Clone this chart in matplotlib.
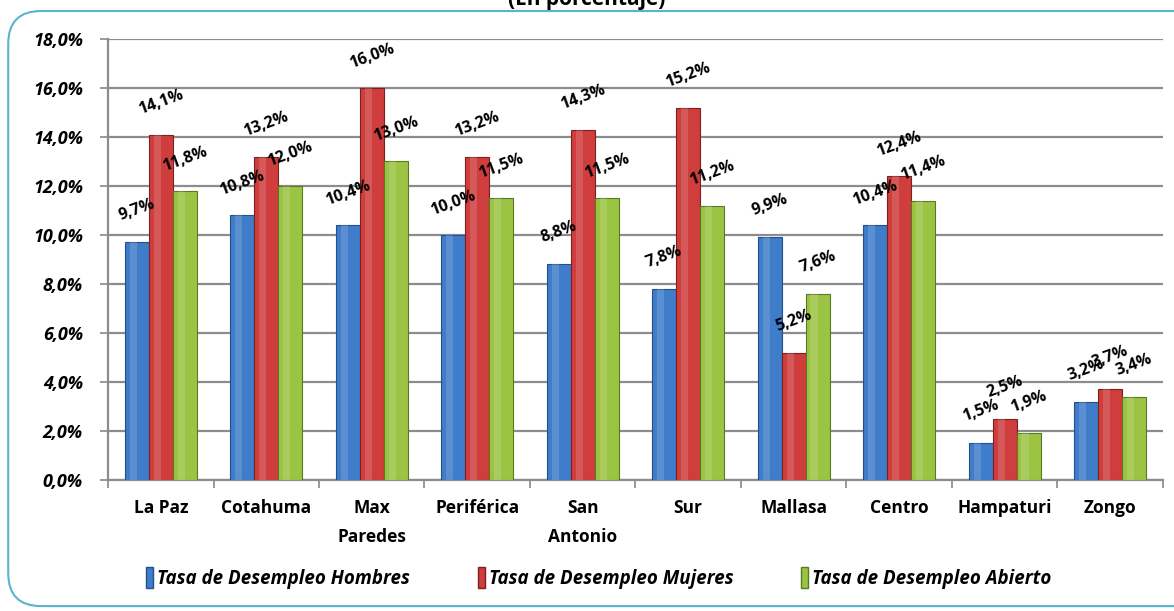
import matplotlib.pyplot as plt
import numpy as np
from matplotlib.patches import FancyBboxPatch, Rectangle

plt.rcParams["font.family"] = ["Open Sans", "DejaVu Sans"]

categorias = ["La Paz", "Cotahuma", "Max\nParedes", "Periférica", "San\nAntonio",
              "Sur", "Mallasa", "Centro", "Hampaturi", "Zongo"]
hombres = [9.7, 10.8, 10.4, 10.0, 8.8, 7.8, 9.9, 10.4, 1.5, 3.2]
mujeres = [14.1, 13.2, 16.0, 13.2, 14.3, 15.2, 5.2, 12.4, 2.5, 3.7]
abierto = [11.8, 12.0, 13.0, 11.5, 11.5, 11.2, 7.6, 11.4, 1.9, 3.4]
series = [
    ("Tasa de Desempleo Hombres", hombres, "#3f7cc9", "#244f8a"),
    ("Tasa de Desempleo Mujeres", mujeres, "#cf3d3d", "#7d1f1f"),
    ("Tasa de Desempleo Abierto", abierto, "#9cc444", "#5a7a22"),
]

fig = plt.figure(figsize=(11.74, 6.11), dpi=100)

# marco redondeado
marco = FancyBboxPatch((0.007, 0.008), 1.05, 0.974, boxstyle="round,pad=0,rounding_size=0.028",
                       transform=fig.transFigure, fill=False, edgecolor="#5bb3cc",
                       linewidth=1.5, mutation_aspect=1174 / 611)
fig.patches.append(marco)
fig.text(0.5, 0.991, "(En porcentaje)", ha="center", va="baseline", fontsize=15,
         fontweight="bold")

ax = fig.add_axes([0.092, 0.2144, 0.8986, 0.7218])
x = np.arange(len(categorias))
ancho = 0.227
for k, (nombre, vals, color, borde) in enumerate(series):
    pos = x + (k - 1) * ancho
    ax.bar(pos, vals, width=ancho, color=color, edgecolor=borde, linewidth=0.8,
           label=nombre, zorder=3)
    # brillo lateral
    ax.bar(pos - ancho * 0.15, vals, width=ancho * 0.3, color="white", alpha=0.15,
           linewidth=0, zorder=4)
    for xi, v in zip(pos, vals):
        ax.annotate(f"{v:.1f}%".replace(".", ","), (xi, v), xytext=(0, 23),
                    textcoords="offset points", ha="center", va="center",
                    rotation=20, fontsize=11.5, fontweight="bold", zorder=6)

ax.set_xlim(-0.5, len(categorias) - 0.5)
ax.set_ylim(0, 18)
ax.set_yticks(np.arange(0, 18.1, 2))
ax.set_yticklabels([f"{t:.1f}%".replace(".", ",") for t in np.arange(0, 18.1, 2)],
                   fontsize=13, fontweight="bold", fontstyle="italic")
ax.set_xticks(x)
ax.set_xticklabels(categorias, fontsize=12.5, fontweight="bold", linespacing=1.75)
ax.set_xticks(np.arange(-0.5, len(categorias), 1), minor=True)
ax.tick_params(axis="x", which="major", length=0, pad=14)
ax.tick_params(axis="x", which="minor", length=6, color="#888888", width=1.2)
ax.tick_params(axis="y", length=6, color="#888888", width=1.2, pad=12)
ax.grid(axis="y", color="#8c8c8c", linewidth=1.6, zorder=0)
for lado in ["top", "right"]:
    ax.spines[lado].set_visible(False)
for lado in ["left", "bottom"]:
    ax.spines[lado].set_color("#8c8c8c")
    ax.spines[lado].set_linewidth(1.6)

labels = [s[0] for s in series]
handles = [Rectangle((0, 0), 1, 1, facecolor=s[2], edgecolor=s[3]) for s in series]
fig.legend(handles, labels, loc="center", bbox_to_anchor=(0.51, 0.054), ncol=3,
           frameon=False, handlelength=0.4, handleheight=1.3, handletextpad=0.2,
           columnspacing=3.6, prop={"weight": "bold", "style": "italic", "size": 13.5})

fig.savefig("out.png", dpi=100)
